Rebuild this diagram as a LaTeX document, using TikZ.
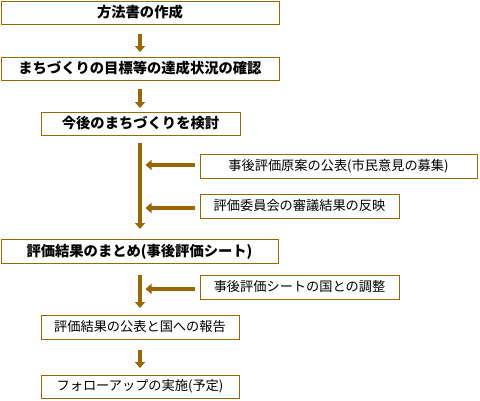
\documentclass[tikz,border=0pt]{standalone}
\usepackage{fontspec}
\setmainfont{Noto Sans CJK JP}
\usetikzlibrary{arrows.meta}
\definecolor{brn}{HTML}{996600}
\tikzset{
  box/.style={draw=brn, line width=1pt, inner sep=0pt, minimum height=23pt, font=\fontsize{13.2}{13.2}\selectfont},
  bbox/.style={box, font=\fontsize{14.3}{14.3}\selectfont\bfseries},
  arr/.style={draw=brn, line width=4.5pt, -{Triangle[width=10pt,length=6pt]}},
}
\begin{document}
\begin{tikzpicture}[x=1pt,y=-1pt]
\useasboundingbox (0,0) rectangle (480,400);
\node[bbox, minimum width=278pt] (b1) at (140,12.5) {方法書の作成};
\node[bbox, minimum width=278pt] (b2) at (140,68.5) {まちづくりの目標等の達成状況の確認};
\node[bbox, minimum width=199pt] (b3) at (140.5,123.5) {今後のまちづくりを検討};
\node[box, minimum width=277pt, minimum height=24pt] (b4) at (338.5,166) {事後評価原案の公表(市民意見の募集)};
\node[box, minimum width=199pt, minimum height=24pt] (b5) at (299.5,206) {評価委員会の審議結果の反映};
\node[bbox, minimum width=277pt, minimum height=24pt] (b6) at (139.5,251.5) {評価結果のまとめ(事後評価シート)};
\node[box, minimum width=199pt, minimum height=24pt] (b7) at (299.5,287) {事後評価シートの国との調整};
\node[box, minimum width=198pt, minimum height=24pt] (b8) at (140,327) {評価結果の公表と国への報告};
\node[box, minimum width=198pt, minimum height=23pt] (b9) at (140,386.5) {フォローアップの実施(予定)};
\coordinate (v1) at (140,143);
\coordinate (v2) at (140,229);
\coordinate (h1) at (145.5,165);
\coordinate (h2) at (145.5,208);
\coordinate (h3) at (145.5,289);
\draw[arr] (140,34) -- (140,52);
\draw[arr] (140,89) -- (140,108);
\draw[arr] (v1) -- (v2);
\draw[arr] ([xshift=-5pt]b4.west |- h1) -- (h1);
\draw[arr] ([xshift=-5pt]b5.west |- h2) -- (h2);
\draw[arr] (140,275) -- (140,308);
\draw[arr] ([xshift=-5pt]b7.west |- h3) -- (h3);
\draw[arr] (140,350) -- (140,368);
\end{tikzpicture}
\end{document}
